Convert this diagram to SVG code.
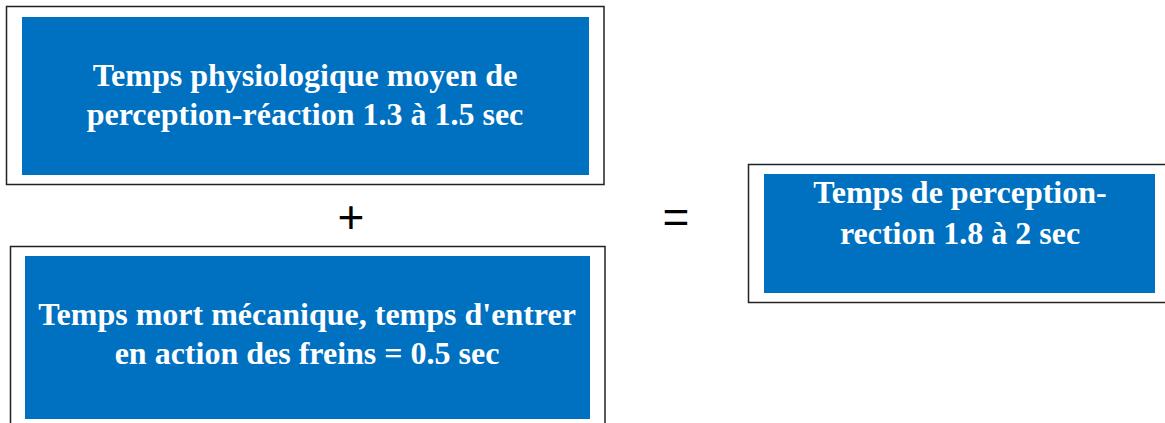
<svg xmlns="http://www.w3.org/2000/svg" width="1165" height="423" viewBox="0 0 1165 423">
  <style>
    .frame { fill: #ffffff; stroke: #222222; stroke-width: 1.5; }
    .panel { fill: #0070C0; }
    .label { font-family: "Liberation Serif", "Times New Roman", serif; font-weight: bold; font-size: 32px; fill: #ffffff; text-anchor: middle; }
    .op { font-family: "Liberation Sans", Arial, sans-serif; font-size: 46px; fill: #000000; text-anchor: middle; }
  </style>
  <rect width="1165" height="423" fill="#ffffff"/>

  <g id="node-physio">
    <rect class="frame" x="6.5" y="6.5" width="597.5" height="178"/>
    <rect class="panel" x="22" y="17" width="567" height="158"/>
    <text class="label" x="305" y="86">Temps physiologique moyen de</text>
    <text class="label" x="305" y="125">perception-réaction 1.3 à 1.5 sec</text>
  </g>

  <g id="node-mecanique">
    <rect class="frame" x="10.5" y="246.5" width="594.5" height="190"/>
    <rect class="panel" x="25" y="256" width="565" height="163"/>
    <text class="label" x="307" y="325">Temps mort mécanique, temps d'entrer</text>
    <text class="label" x="307" y="364">en action des freins = 0.5 sec</text>
  </g>

  <g id="node-total">
    <rect class="frame" x="748.5" y="164.5" width="430" height="138"/>
    <rect class="panel" x="764" y="174" width="391" height="119"/>
    <text class="label" x="960" y="203">Temps de perception-</text>
    <text class="label" x="960" y="244">rection 1.8 à 2 sec</text>
  </g>

  <g id="connectors">
    <text class="op" x="351" y="233">+</text>
    <text class="op" x="676" y="233">=</text>
  </g>
</svg>
